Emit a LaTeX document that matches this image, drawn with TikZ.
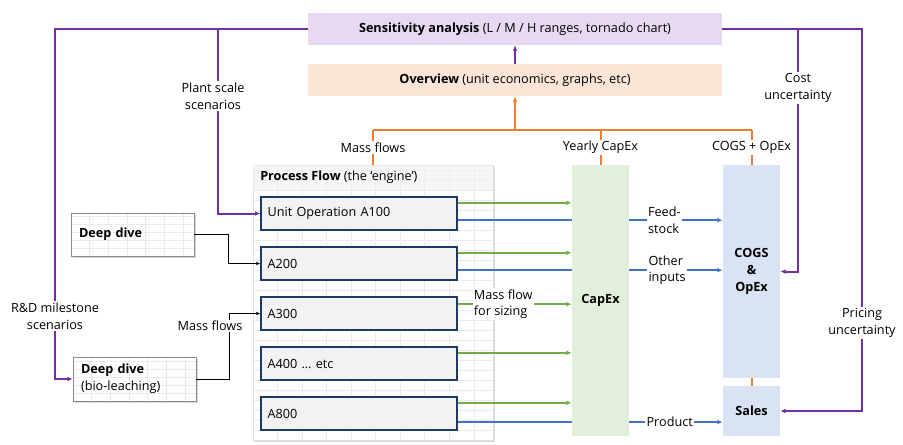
\documentclass[tikz,border=0pt]{standalone}
\usepackage{fontspec}
\setmainfont{Open Sans}
\usepackage{tikz}
\usetikzlibrary{calc,arrows.meta,shadows}

\definecolor{purp}{HTML}{7030A0}
\definecolor{orng}{HTML}{ED7D31}
\definecolor{grn}{HTML}{70AD47}
\definecolor{blu}{HTML}{4472C4}
\definecolor{navy}{HTML}{1F3864}
\definecolor{sensfill}{HTML}{E7D9F1}
\definecolor{overfill}{HTML}{FBE5D6}
\definecolor{capfill}{HTML}{E2EFDA}
\definecolor{cogsfill}{HTML}{DAE3F3}

\tikzset{
  gridln/.style={draw=black!8, line width=0.4pt},
  gridbox/.style 2 args={path picture={
      \foreach \k in {1,...,14}
        \draw[gridln] ([xshift=\k*#1]path picture bounding box.south west) -- ([xshift=\k*#1]path picture bounding box.north west);
      \foreach \k in {1,...,30}
        \draw[gridln] ([yshift=\k*#2]path picture bounding box.south west) -- ([yshift=\k*#2]path picture bounding box.south east);
  }},
  sheet/.style={fill=white, draw=black!12, drop shadow={shadow xshift=1.5pt, shadow yshift=-1.5pt, fill=black!30}},
  unitop/.style={draw=navy, fill=black!5, line width=0.8pt, minimum width=147pt, minimum height=24.75pt,
    text width=137pt, inner xsep=5pt, align=left},
  ddbox/.style={sheet, draw=black!45, gridbox={14pt}{6pt}, minimum width=92.25pt,
    text width=80.25pt, inner xsep=6pt, align=left},
  topbox/.style={minimum width=310.5pt, minimum height=24pt, inner sep=0pt},
  colbox/.style={minimum width=42.75pt, inner sep=0pt, align=center, font=\fontsize{9.5}{12.5}\selectfont\bfseries},
  lbl/.style={fill=white, inner sep=1pt, align=center},
  pflow/.style={draw=purp, line width=1.5pt},
  oflow/.style={draw=orng, line width=1.5pt},
  gflow/.style={draw=grn, line width=1.4pt},
  bflow/.style={draw=blu, line width=1.4pt},
  kflow/.style={draw=black, line width=0.7pt, -{Latex[length=3pt,width=2.5pt]}}
}

\begin{document}
\begin{tikzpicture}[x=0.75pt, y=-0.75pt, font=\fontsize{9.5}{12.5}\selectfont,
  >={Latex[length=4pt,width=3.5pt]}]
\useasboundingbox (0,0) rectangle (903,444);

% process flow sheet
\node[sheet, gridbox={18.4pt}{7.5pt}, minimum width=180pt, minimum height=206.25pt] (proc) at (373,302.5) {};
\fill[black!6, opacity=0.6] (proc.north west) rectangle ($(proc.north east)+(0,25)$);
\node[anchor=west, inner sep=0pt] (ptitle) at (260,177) {\textbf{Process Flow} (the ‘engine’)};

\node[unitop] (u100) at (359,213.5) {Unit Operation A100};
\node[unitop] (u200) at (359,263.5) {A200};
\node[unitop] (u300) at (359,313.5) {A300};
\node[unitop] (u400) at (359,363.5) {A400 … etc};
\node[unitop] (u800) at (359,413.5) {A800};

% deep dives
\node[ddbox, minimum height=32.25pt] (dd1) at (132.5,234.5) {\textbf{Deep dive}};
\node[ddbox, minimum height=33pt] (dd2) at (134.5,379) {\textbf{Deep dive}\\(bio-leaching)};

% summary sheets
\node[topbox, fill=sensfill] (sens) at (515,29) {\textbf{Sensitivity analysis} (L / M / H ranges, tornado chart)};
\node[topbox, fill=overfill] (over) at (515,80) {\textbf{Overview} (unit economics, graphs, etc)};

\node[colbox, fill=cogsfill, minimum height=159.75pt] (cogs) at (751.5,271.5) {COGS\\\&\\OpEx};
\node[colbox, fill=cogsfill, minimum height=37.5pt] (sales) at (751.5,411) {Sales};

% blue flows (under CapEx)
\coordinate (b100) at ([yshift=-5pt]u100.east);
\coordinate (b200) at ([yshift=-5pt]u200.east);
\coordinate (b800) at ([yshift=-6.4pt]u800.east);
\draw[bflow,->] (b100) -- node[lbl, pos=0.78, align=left]{Feed-\\stock} (b100 -| cogs.west);
\draw[bflow,->] (b200) -- node[lbl, pos=0.79, align=left]{Other\\inputs} (b200 -| cogs.west);
\draw[bflow,->] (b800) -- node[lbl, pos=0.8]{Product} (b800 -| sales.west);

\node[colbox, fill=capfill, minimum height=203.25pt] (capex) at (600.5,300.5) {CapEx};

% green flows
\foreach \u in {u100,u200,u400,u800} {
  \coordinate (g) at ([yshift=8pt]\u.east);
  \draw[gflow,->] (g) -- (g -| capex.west);
}
\coordinate (g300) at ([yshift=7pt]u300.east);
\draw[gflow,->] (g300) -- node[lbl, pos=0.4, align=left]{Mass flow\\for sizing} (g300 -| capex.west);

% orange roll-up
\coordinate (ojoin) at (515,130);
\draw[oflow,->] (ojoin) -- (over.south);
\draw[oflow] (proc.north |- ojoin) -- (cogs.north |- ojoin);
\draw[oflow] (proc.north |- ojoin) -- node[lbl]{Mass flows} (proc.north);
\draw[oflow] (capex.north |- ojoin) -- node[lbl]{Yearly CapEx} (capex.north);
\draw[oflow] (cogs.north |- ojoin) -- node[lbl]{COGS + OpEx} (cogs.north);
\draw[oflow] (cogs.south) -- (sales.north);

% scenarios and uncertainty
\draw[pflow,->] (over.north) -- (sens.south);
\draw[pflow,->] (sens.west) -| ($(dd2.west)+(-18,0)$) -- (dd2.west);
\coordinate (ptap) at (218,29);
\draw[pflow,->] (ptap) |- (u100.west);
\draw[pflow,->] (sens.east) -| ($(sales.east)+(82,0)$) -- (sales.east);
\coordinate (ctap) at (798,29);
\draw[pflow,->] (ctap) |- (cogs.east);

\node[lbl] (lplant) at (213,96) {Plant scale\\scenarios};
\node[lbl] (lrd) at (55,316) {R\&D milestone\\scenarios};
\node[lbl] (lcost) at (798,88) {Cost\\uncertainty};
\node[lbl] (lprice) at (862,323) {Pricing\\uncertainty};

% deep dive feeds
\draw[kflow] (dd1.east) -- ++(34,0) |- (u200.west);
\draw[kflow] (dd2.east) -- ++(33,0) |- (u300.west);
\node[lbl] (lmass) at (210,326) {Mass flows};
\end{tikzpicture}
\end{document}
